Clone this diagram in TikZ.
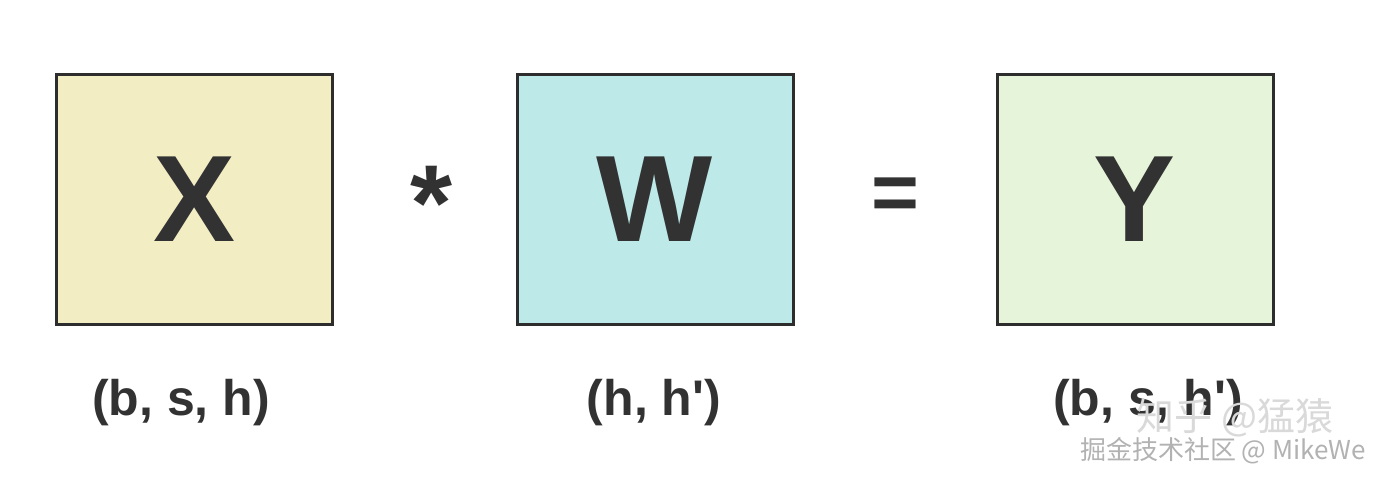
\documentclass[tikz,border=0pt]{standalone}
\usepackage{fontspec}
\setmainfont{Liberation Sans}
\newfontfamily\cjk{Noto Sans CJK SC}
\usetikzlibrary{positioning}
\definecolor{edge}{RGB}{45,45,45}
\definecolor{ink}{RGB}{50,50,50}
\definecolor{xfill}{RGB}{243,237,196}
\definecolor{wfill}{RGB}{189,233,233}
\definecolor{yfill}{RGB}{230,244,218}
\begin{document}
\begin{tikzpicture}[x=1pt,y=-1pt,
  mat/.style={draw=edge,line width=3pt,minimum width=276pt,minimum height=250pt,inner sep=0pt,text=ink,font=\fontsize{123}{123}\selectfont\bfseries},
  dim/.style={inner sep=0pt,text=ink,font=\fontsize{50}{50}\selectfont\bfseries},
  op/.style={inner sep=0pt,anchor=north,text=ink,font=\fontsize{#1}{#1}\selectfont\bfseries}]
  \useasboundingbox[fill=white](0,0)rectangle(1379,481);
  % matrices
  \node[mat,fill=xfill](boxX)at(194.5,199.5){X};
  \node[mat,fill=wfill](boxW)at(655,199.5){W};
  \node[mat,fill=yfill](boxY)at(1135,199.5){Y};
  % operators
  \node[op=108](times)at(432,166){*};
  \node[op=82](equals)at(895,178){=};
  % shapes
  \node[dim](dimX)at(181,403){(b, s, h)};
  \node[dim](dimW)at(654,403){(h, h\textquotesingle)};
  \node[dim](dimY)at(1148,403){(b, s, h\textquotesingle)};
  % watermarks
  \node[inner sep=0pt,text=gray!30,font=\cjk\fontsize{38}{38}\selectfont](mark1)at(1235,418){知乎 @猛猿};
  \node[inner sep=0pt,text=gray!60,font=\cjk\fontsize{26}{26}\selectfont](mark2)at(1223,451){掘金技术社区 @ MikeWe};
\end{tikzpicture}
\end{document}
